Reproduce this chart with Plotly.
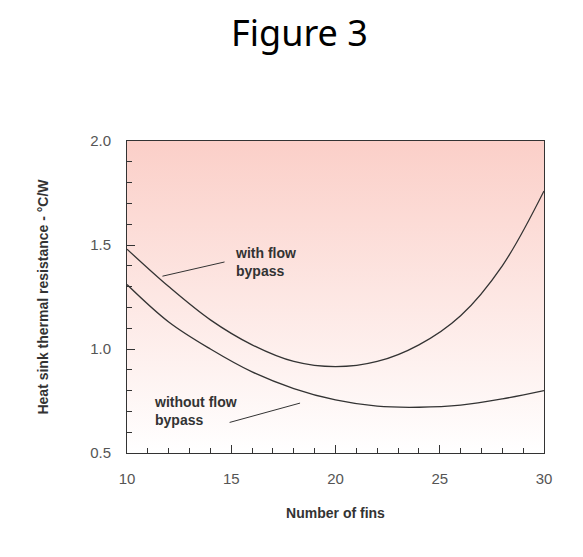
import plotly.graph_objects as go

fins = [10, 12, 14, 16, 18, 20, 22, 24, 26, 28, 30]
with_bypass = [1.48, 1.30, 1.14, 1.02, 0.94, 0.915, 0.94, 1.02, 1.16, 1.40, 1.76]
without_bypass = [1.31, 1.13, 1.00, 0.89, 0.81, 0.755, 0.725, 0.72, 0.73, 0.76, 0.80]

fig = go.Figure()

# pink gradient background over the plot area
fig.add_trace(go.Scatter(
    x=[10, 30, 30, 10, 10], y=[0.5, 0.5, 2.0, 2.0, 0.5],
    mode="none", fill="toself", hoverinfo="skip", showlegend=False,
    fillgradient=dict(type="vertical",
                      colorscale=[[0, "#ffffff"], [1, "#fbcfc8"]]),
))

for ys in (with_bypass, without_bypass):
    fig.add_trace(go.Scatter(x=fins, y=ys, mode="lines", line_shape="spline",
                             line=dict(color="#333333", width=1.3),
                             showlegend=False))

fig.add_annotation(x=11.7, y=1.35, ax=14.75, ay=1.42, axref="x", ayref="y",
                   showarrow=True, arrowhead=0, arrowwidth=1, arrowcolor="#333", text="")
fig.add_annotation(x=18.3, y=0.74, ax=14.85, ay=0.645, axref="x", ayref="y",
                   showarrow=True, arrowhead=0, arrowwidth=1, arrowcolor="#333", text="")
fig.add_annotation(x=15.1, y=1.42, text="<b>with flow<br>bypass</b>", showarrow=False,
                   xanchor="left", align="left", font=dict(size=14, color="#333"))
fig.add_annotation(x=11.2, y=0.7, text="<b>without flow<br>bypass</b>", showarrow=False,
                   xanchor="left", align="left", font=dict(size=14, color="#333"))

axis_common = dict(showgrid=False, zeroline=False, showline=True, linecolor="#333",
                   mirror=True, ticks="inside", ticklen=8, tickcolor="#333",
                   ticklabelstandoff=12,
                   tickfont=dict(size=15, color="#555", family="Liberation Sans"))
fig.update_xaxes(range=[10, 30], dtick=5,
                 minor=dict(dtick=1, ticks="inside", ticklen=5, tickcolor="#333"),
                 title=dict(text="<b>Number of fins</b>", font=dict(size=14, color="#333"),
                            standoff=22),
                 **axis_common)
fig.update_yaxes(range=[0.5, 2.0], dtick=0.5, tickformat=".1f",
                 minor=dict(dtick=0.1, ticks="inside", ticklen=5, tickcolor="#333"),
                 title=dict(text="<b>Heat sink thermal resistance - °C/W</b>",
                            font=dict(size=14, color="#333"), standoff=38),
                 **axis_common)

fig.update_layout(
    width=583, height=557, plot_bgcolor="white", paper_bgcolor="white",
    margin=dict(l=119, r=47, t=133, b=112, autoexpand=False),
    font=dict(family="Liberation Sans"),
    title=dict(text="Figure 3", x=0.5, xanchor="center", yref="container", y=0.955,
               yanchor="middle", font=dict(size=36, family="Noto Sans", color="black")),
)

fig.write_html("out.html")
